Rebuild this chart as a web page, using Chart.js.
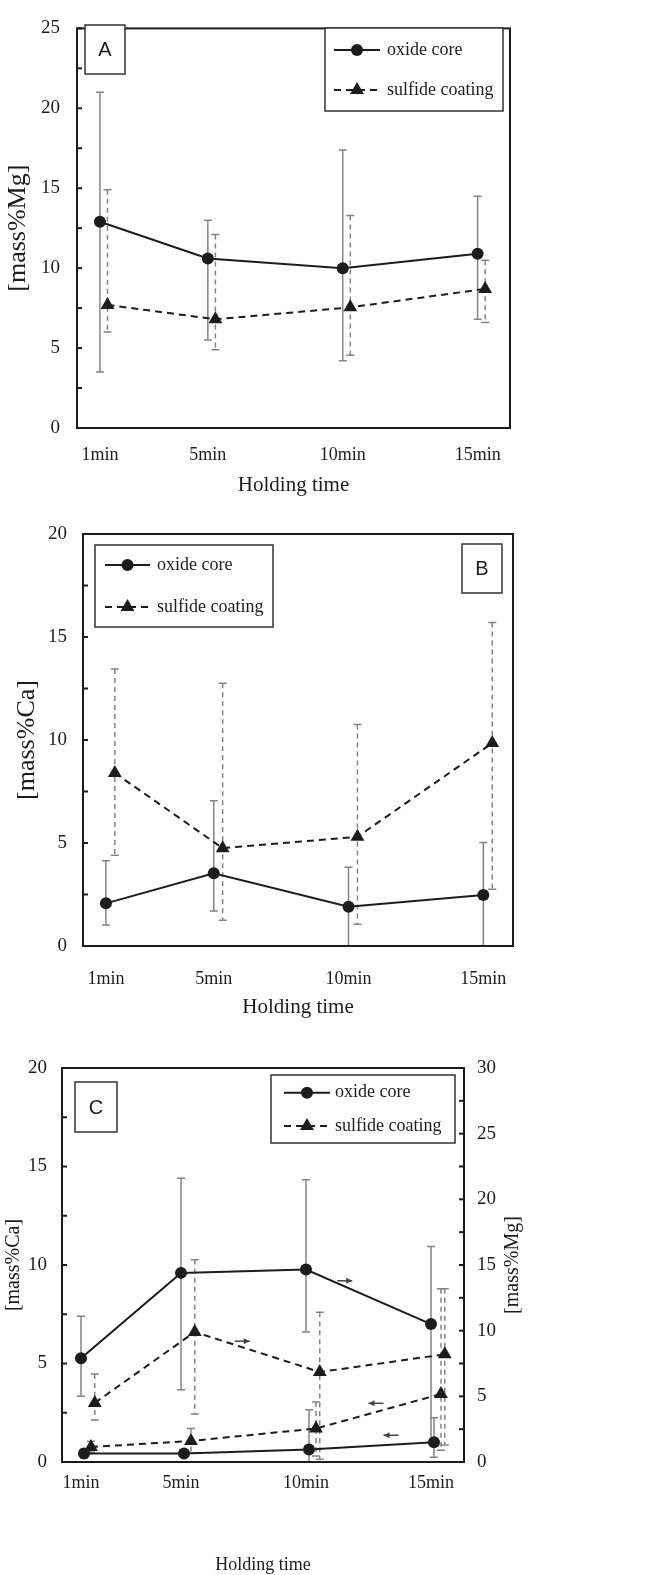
<!DOCTYPE html>
<html><head><meta charset="utf-8">
<script src="https://cdn.jsdelivr.net/npm/chart.js@4.4.1/dist/chart.umd.min.js"></script>
<style>
html,body{margin:0;padding:0;background:#fff;}
body{width:671px;height:1575px;position:relative;overflow:hidden;}
canvas{position:absolute;left:0;}
</style>
</head><body>
<canvas id="cA" width="671" height="500" style="top:0px"></canvas>
<canvas id="cB" width="671" height="520" style="top:500px"></canvas>
<canvas id="cC" width="671" height="555" style="top:1020px"></canvas>
<script>
// ---------- DATA ----------
const categories = ['1min', '5min', '10min', '15min'];
const times = [1, 5, 10, 15];

// Panel A : mass%Mg
const aOxide   = [12.9, 10.6, 10.0, 10.9];
const aOxideHi = [21.0, 13.0, 17.4, 14.5];
const aOxideLo = [3.5, 5.5, 4.2, 6.8];
const aSulf    = [7.7, 6.8, 7.55, 8.7];
const aSulfHi  = [14.9, 12.1, 13.3, 10.5];
const aSulfLo  = [6.0, 4.9, 4.55, 6.6];

// Panel B : mass%Ca
const bOxide   = [2.07, 3.53, 1.91, 2.48];
const bOxideHi = [4.14, 7.05, 3.82, 5.03];
const bOxideLo = [1.02, 1.70, 0, 0];
const bSulf    = [8.4, 4.75, 5.3, 9.85];
const bSulfHi  = [13.45, 12.75, 10.75, 15.7];
const bSulfLo  = [4.4, 1.25, 1.05, 2.75];

// Panel C : mass%Mg (right axis) and mass%Ca (left axis)
const cMgOxide   = [7.9, 14.4, 14.65, 10.5];
const cMgOxideHi = [11.1, 21.6, 21.5, 16.4];
const cMgOxideLo = [5.0, 5.5, 9.9, 1.5];
const cMgSulf    = [4.5, 9.9, 6.85, 8.2];
const cMgSulfHi  = [6.7, 15.4, 11.4, 13.2];
const cMgSulfLo  = [3.2, 3.65, 0.2, 1.3];
const cCaOxide   = [0.43, 0.43, 0.64, 1.0];
const cCaOxideHi = [0.65, 0.6, 2.65, 2.25];
const cCaOxideLo = [0.2, 0.25, 0, 0.24];
const cCaSulf    = [0.76, 1.07, 1.7, 3.45];
const cCaSulfHi  = [1.05, 1.7, 3.05, 8.8];
const cCaSulfLo  = [0.5, 0.45, 0.3, 0.6];

// small horizontal shifts (in minutes) used in the original to separate series
const shiftA = 0.28, shiftB = 0.33;
const shiftCaOx = 0.12, shiftCaSu = 0.4, shiftMgSu = 0.55;

// ---------- STYLE ----------
const SERIF = '"Liberation Serif", "Times New Roman", serif';
const SANS = '"Liberation Sans", Arial, sans-serif';
const INK = '#1c1c1c';
const ERR = '#848484';

function pts(ys, shift) { return times.map((t, i) => ({x: t + shift, y: ys[i]})); }

function oxideDs(label, ys, hi, lo, shift, axis) {
  return {label, data: pts(ys, shift), yAxisID: axis || 'y', borderColor: INK, backgroundColor: INK,
    borderWidth: 2, pointStyle: 'circle', pointRadius: 6, pointBorderWidth: 0, pointBackgroundColor: INK,
    errHi: hi, errLo: lo, errDash: []};
}
function sulfDs(label, ys, hi, lo, shift, axis) {
  return {label, data: pts(ys, shift), yAxisID: axis || 'y', borderColor: INK, backgroundColor: INK,
    borderWidth: 2, borderDash: [7, 5], pointStyle: 'triangle', pointRadius: 8, pointBorderWidth: 0, pointBackgroundColor: INK,
    errHi: hi, errLo: lo, errDash: [5, 4]};
}

function xScale(min, max, labelPad, titleSize, titlePad, height) {
  return {
    type: 'linear', min, max,
    afterBuildTicks: s => { s.ticks = times.map(v => ({value: v})); },
    ticks: {callback: v => categories[times.indexOf(v)], font: {family: SERIF, size: 18}, color: INK,
      padding: labelPad, maxRotation: 0, minRotation: 0, autoSkip: false},
    grid: {display: false, drawTicks: false}, border: {display: false},
    title: {display: true, text: 'Holding time', font: {family: SERIF, size: titleSize, lineHeight: 1}, color: INK,
      padding: {top: 0, bottom: titlePad}},
    afterFit: s => { s.height = height; }
  };
}
function yScale(max, title, labelPad, titleSize, titlePad, width, position) {
  return {
    type: 'linear', position: position || 'left', min: 0, max,
    ticks: {stepSize: 2.5, autoSkip: false, font: {family: SERIF, size: 19}, color: INK, padding: labelPad,
      callback: v => (Math.abs(v / 5 - Math.round(v / 5)) < 1e-6 ? String(Math.round(v)) : '')},
    grid: {display: false, drawTicks: false}, border: {display: false},
    title: {display: !!title, text: title || '', font: {family: SERIF, size: titleSize, lineHeight: 1}, color: INK,
      padding: {top: titlePad, bottom: 0}},
    afterFit: s => { s.width = width; }
  };
}

// ---------- PLUGINS ----------
const errorBars = {
  id: 'errorBars',
  beforeDatasetsDraw(chart) {
    const ctx = chart.ctx;
    chart.data.datasets.forEach(ds => {
      if (!ds.errHi) return;
      const xs = chart.scales.x, ys = chart.scales[ds.yAxisID || 'y'];
      ctx.save();
      ctx.strokeStyle = ERR; ctx.lineWidth = 1.5;
      ds.data.forEach((p, j) => {
        const x = xs.getPixelForValue(p.x);
        const yh = ys.getPixelForValue(ds.errHi[j]);
        const yl = ys.getPixelForValue(ds.errLo[j]);
        ctx.setLineDash(ds.errDash);
        ctx.beginPath(); ctx.moveTo(x, yh); ctx.lineTo(x, yl); ctx.stroke();
        ctx.setLineDash([]);
        ctx.beginPath();
        ctx.moveTo(x - 4, yh); ctx.lineTo(x + 4, yh);
        ctx.moveTo(x - 4, yl); ctx.lineTo(x + 4, yl);
        ctx.stroke();
      });
      ctx.restore();
    });
  }
};

const decor = {
  id: 'decor',
  afterDraw(chart, args, o) {
    const ctx = chart.ctx, a = chart.chartArea;
    ctx.save();
    // inner ticks
    (o.innerTicks || []).forEach(t => {
      const s = chart.scales[t.id];
      ctx.strokeStyle = INK; ctx.lineWidth = 2;
      s.ticks.forEach(tk => {
        const y = s.getPixelForValue(tk.value);
        ctx.beginPath();
        if (t.side === 'left') { ctx.moveTo(a.left, y); ctx.lineTo(a.left + 5, y); }
        else { ctx.moveTo(a.right, y); ctx.lineTo(a.right - 5, y); }
        ctx.stroke();
      });
    });
    // frame
    ctx.strokeStyle = INK; ctx.lineWidth = 2;
    ctx.strokeRect(a.left, a.top, a.right - a.left, a.bottom - a.top);
    // panel letter box
    if (o.label) {
      const L = o.label;
      ctx.fillStyle = '#fff'; ctx.fillRect(L.x1, L.y1, L.x2 - L.x1, L.y2 - L.y1);
      ctx.strokeStyle = '#333'; ctx.lineWidth = 1.5;
      ctx.strokeRect(L.x1, L.y1, L.x2 - L.x1, L.y2 - L.y1);
      ctx.fillStyle = INK; ctx.font = '20px ' + SANS; ctx.textAlign = 'center'; ctx.textBaseline = 'middle';
      ctx.fillText(L.text, (L.x1 + L.x2) / 2, (L.y1 + L.y2) / 2 + 1);
    }
    // legend box
    if (o.legend) {
      const G = o.legend;
      ctx.fillStyle = '#fff'; ctx.fillRect(G.x1, G.y1, G.x2 - G.x1, G.y2 - G.y1);
      ctx.strokeStyle = '#333'; ctx.lineWidth = 1.5;
      ctx.strokeRect(G.x1, G.y1, G.x2 - G.x1, G.y2 - G.y1);
      chart.data.datasets.slice(0, 2).forEach((ds, i) => {
        const y = G.rows[i];
        ctx.strokeStyle = INK; ctx.lineWidth = 2;
        ctx.setLineDash(ds.borderDash || []);
        ctx.beginPath(); ctx.moveTo(G.lx1, y); ctx.lineTo(G.lx2, y); ctx.stroke();
        ctx.setLineDash([]);
        const cx = (G.lx1 + G.lx2) / 2;
        ctx.fillStyle = INK;
        ctx.beginPath();
        if (ds.pointStyle === 'circle') { ctx.arc(cx, y, 6, 0, Math.PI * 2); }
        else { const r = 8; ctx.moveTo(cx, y - r); ctx.lineTo(cx + r * 0.866, y + r / 2); ctx.lineTo(cx - r * 0.866, y + r / 2); ctx.closePath(); }
        ctx.fill();
        ctx.font = '18px ' + SERIF; ctx.textAlign = 'left'; ctx.textBaseline = 'middle';
        ctx.fillText(o.legendNames[i], G.tx, y);
      });
    }
    // axis arrows (which axis each pair of curves refers to)
    (o.arrows || []).forEach(ar => {
      const xs = chart.scales.x, ys = chart.scales[ar.axis];
      const x1 = xs.getPixelForValue(ar.x1), x2 = xs.getPixelForValue(ar.x2), y = ys.getPixelForValue(ar.y);
      const tip = ar.dir > 0 ? x2 : x1, tail = ar.dir > 0 ? x1 : x2;
      ctx.strokeStyle = '#444'; ctx.fillStyle = '#444'; ctx.lineWidth = 1.5;
      ctx.beginPath(); ctx.moveTo(tail, y); ctx.lineTo(tip, y); ctx.stroke();
      ctx.beginPath(); ctx.moveTo(tip, y); ctx.lineTo(tip - ar.dir * 6, y - 3); ctx.lineTo(tip - ar.dir * 6, y + 3); ctx.closePath(); ctx.fill();
    });
    // rotated right-hand title
    if (o.rightTitle) {
      const R = o.rightTitle;
      ctx.translate(R.x, (a.top + a.bottom) / 2);
      ctx.rotate(-Math.PI / 2);
      ctx.fillStyle = INK; ctx.font = R.size + 'px ' + SERIF; ctx.textAlign = 'center'; ctx.textBaseline = 'middle';
      ctx.fillText(R.text, 0, 0);
    }
    ctx.restore();
  }
};

function baseOptions(padding, scales, decorOpts) {
  return {
    responsive: false, animation: false, devicePixelRatio: 1,
    layout: {padding},
    scales,
    plugins: {legend: {display: false}, tooltip: {enabled: false}, decor: decorOpts}
  };
}
const legendNames = ['oxide core', 'sulfide coating'];

// ---------- PANEL A ----------
new Chart(document.getElementById('cA'), {
  type: 'line',
  data: {datasets: [
    oxideDs('oxide core', aOxide, aOxideHi, aOxideLo, 0),
    sulfDs('sulfide coating', aSulf, aSulfHi, aSulfLo, shiftA)
  ]},
  options: baseOptions({left: 0, right: 161, top: 15, bottom: 0}, {
    x: xScale(0.15, 16.2, 16, 21, 4.5, 72),
    y: yScale(25, '[mass%Mg]', 17, 26, 5, 77)
  }, {
    innerTicks: [{id: 'y', side: 'left'}],
    label: {x1: 85, y1: 25, x2: 125, y2: 74, text: 'A'},
    legend: {x1: 325, y1: 28, x2: 503, y2: 111, rows: [50, 90], lx1: 334, lx2: 380, tx: 387},
    legendNames
  }),
  plugins: [errorBars, decor]
});

// ---------- PANEL B ----------
new Chart(document.getElementById('cB'), {
  type: 'line',
  data: {datasets: [
    oxideDs('oxide core', bOxide, bOxideHi, bOxideLo, 0),
    sulfDs('sulfide coating', bSulf, bSulfHi, bSulfLo, shiftB)
  ]},
  options: baseOptions({left: 0, right: 158, top: 34, bottom: 0}, {
    x: xScale(0.15, 16.1, 22, 21, 2, 74),
    y: yScale(20, '[mass%Ca]', 16, 26, 14, 83)
  }, {
    innerTicks: [{id: 'y', side: 'left'}],
    label: {x1: 462, y1: 44, x2: 502, y2: 93, text: 'B'},
    legend: {x1: 95, y1: 45, x2: 273, y2: 127, rows: [65, 107], lx1: 105, lx2: 150, tx: 157},
    legendNames
  }),
  plugins: [errorBars, decor]
});

// ---------- PANEL C ----------
const cArrows = [
  {x1: 11.25, x2: 11.85, y: 13.8, axis: 'y2', dir: 1},
  {x1: 7.15, x2: 7.75, y: 9.2, axis: 'y2', dir: 1},
  {x1: 12.5, x2: 13.1, y: 2.98, axis: 'y', dir: -1},
  {x1: 13.1, x2: 13.7, y: 1.36, axis: 'y', dir: -1}
];
new Chart(document.getElementById('cC'), {
  type: 'line',
  data: {datasets: [
    oxideDs('oxide core (Mg)', cMgOxide, cMgOxideHi, cMgOxideLo, 0, 'y2'),
    sulfDs('sulfide coating (Mg)', cMgSulf, cMgSulfHi, cMgSulfLo, shiftMgSu, 'y2'),
    oxideDs('oxide core (Ca)', cCaOxide, cCaOxideHi, cCaOxideLo, shiftCaOx, 'y'),
    sulfDs('sulfide coating (Ca)', cCaSulf, cCaSulfHi, cCaSulfLo, shiftCaSu, 'y')
  ]},
  options: baseOptions({left: 0, right: 0, top: 48, bottom: 0}, {
    x: xScale(0.24, 16.32, 10.5, 18, 1, 113),
    y: yScale(20, '[mass%Ca]', 15, 20, 4, 62, 'left'),
    y2: yScale(30, '', 13, 20, 0, 207, 'right')
  }, {
    innerTicks: [{id: 'y', side: 'left'}, {id: 'y2', side: 'right'}],
    label: {x1: 75, y1: 62, x2: 117, y2: 112, text: 'C'},
    legend: {x1: 271, y1: 55, x2: 455, y2: 123, rows: [72.7, 106], lx1: 284, lx2: 330, tx: 335},
    legendNames,
    arrows: cArrows,
    rightTitle: {x: 513, text: '[mass%Mg]', size: 20}
  }),
  plugins: [errorBars, decor]
});
</script>
</body></html>
